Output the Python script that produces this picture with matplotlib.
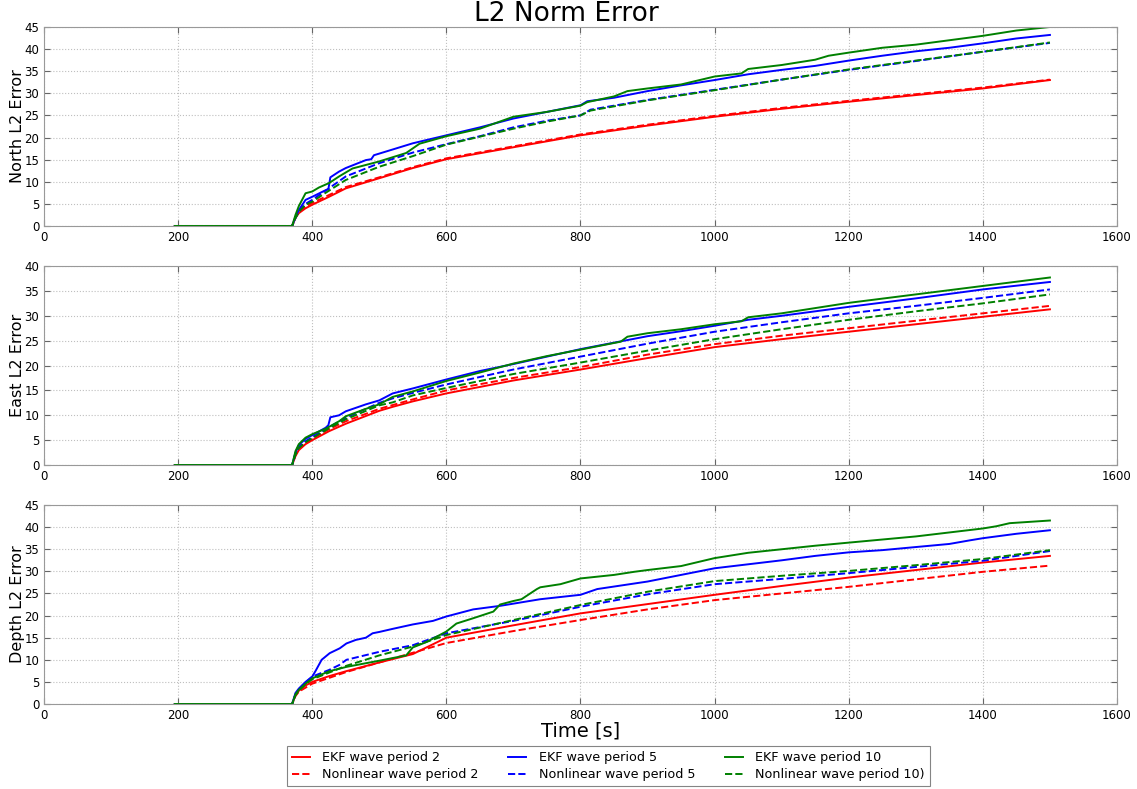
import numpy as np
import matplotlib
matplotlib.use("Agg")
import matplotlib.pyplot as plt

# (time [s], L2 error) samples for each run
north_ekf2 = [(195, 0), (370, 0), (375, 1.8), (380, 2.9), (390, 4.0), (400, 4.8), (425, 6.6), (450, 8.5),
              (500, 10.8), (550, 13.1), (600, 15.1), (700, 17.8), (800, 20.5), (900, 22.7), (1000, 24.7),
              (1100, 26.5), (1200, 28.1), (1300, 29.6), (1400, 31.1), (1500, 33.0)]
north_nl2 = [(195, 0), (370, 0), (375, 2.0), (380, 3.2), (390, 4.4), (400, 5.2), (425, 7.0), (450, 8.8),
             (500, 11.0), (550, 13.3), (600, 15.3), (700, 18.0), (800, 20.7), (900, 22.9), (1000, 24.9),
             (1100, 26.7), (1200, 28.3), (1300, 29.8), (1400, 31.3), (1500, 33.1)]
north_ekf5 = [(195, 0), (370, 0), (375, 2.0), (380, 3.6), (390, 5.9), (400, 6.6), (420, 8.1), (424, 8.3),
              (427, 11.0), (440, 12.3), (450, 13.1), (480, 14.9), (488, 15.1), (492, 16.0), (520, 17.3),
              (550, 18.7), (600, 20.5), (650, 22.3), (700, 24.3), (750, 25.8), (800, 27.3), (810, 28.2),
              (850, 29.0), (900, 30.5), (950, 31.8), (1000, 33.0), (1050, 34.3), (1100, 35.3), (1150, 36.2),
              (1200, 37.4), (1250, 38.5), (1300, 39.5), (1350, 40.3), (1400, 41.3), (1450, 42.4), (1500, 43.2)]
north_ekf10 = [(195, 0), (370, 0), (375, 2.5), (380, 4.5), (390, 7.4), (400, 7.8), (410, 8.7), (425, 9.7),
               (440, 11.2), (460, 13.0), (480, 13.8), (500, 14.6), (540, 16.5), (560, 18.6), (600, 20.3),
               (650, 22.0), (700, 24.7), (750, 25.8), (800, 27.2), (810, 28.0), (850, 29.3), (870, 30.5),
               (900, 31.1), (950, 32.0), (1000, 33.8), (1040, 34.5), (1050, 35.5), (1100, 36.4), (1150, 37.6),
               (1170, 38.5), (1200, 39.2), (1250, 40.3), (1300, 41.0), (1350, 42.0), (1400, 43.0),
               (1450, 44.2), (1500, 45.0)]
north_nl5 = [(195, 0), (370, 0), (375, 1.8), (380, 3.3), (390, 5.0), (400, 5.9), (420, 8.0), (450, 11.2),
             (500, 14.2), (550, 16.6), (600, 18.5), (650, 20.3), (700, 22.3), (750, 23.8), (800, 25.0),
             (815, 26.3), (900, 28.5), (1000, 30.8), (1100, 33.1), (1200, 35.3), (1300, 37.3), (1400, 39.4),
             (1500, 41.4)]
north_nl10 = [(195, 0), (370, 0), (375, 1.8), (380, 3.2), (390, 4.8), (400, 5.5), (420, 7.5), (450, 10.4),
              (500, 13.4), (550, 15.8), (600, 18.4), (650, 20.2), (700, 22.0), (750, 23.6), (800, 25.0),
              (815, 26.1), (900, 28.4), (1000, 30.7), (1100, 33.1), (1200, 35.4), (1300, 37.4), (1400, 39.4),
              (1500, 41.5)]

east_ekf2 = [(195, 0), (370, 0), (375, 1.8), (380, 3.0), (390, 4.2), (400, 5.0), (425, 6.8), (450, 8.3),
             (500, 10.9), (520, 11.7), (550, 12.8), (600, 14.4), (700, 17.0), (800, 19.2), (900, 21.5),
             (1000, 23.7), (1100, 25.3), (1200, 26.8), (1300, 28.3), (1400, 29.8), (1500, 31.3)]
east_nl2 = [(195, 0), (370, 0), (375, 2.0), (380, 3.3), (390, 4.5), (400, 5.3), (425, 7.2), (450, 8.8),
            (500, 11.3), (550, 13.2), (600, 15.0), (700, 17.5), (800, 19.7), (900, 22.2), (1000, 24.3),
            (1100, 26.0), (1200, 27.5), (1300, 29.0), (1400, 30.5), (1500, 32.0)]
east_ekf5 = [(195, 0), (370, 0), (375, 2.5), (380, 4.0), (390, 5.3), (400, 6.0), (420, 7.5), (424, 8.0),
             (427, 9.6), (440, 10.0), (450, 10.8), (480, 12.2), (500, 13.0), (520, 14.4), (550, 15.4),
             (600, 17.2), (650, 18.9), (700, 20.3), (750, 21.8), (800, 23.3), (850, 24.6), (900, 25.9),
             (950, 26.9), (1000, 28.0), (1050, 29.2), (1100, 30.0), (1200, 31.8), (1300, 33.5), (1400, 35.3),
             (1500, 36.8)]
east_ekf10 = [(195, 0), (370, 0), (375, 2.8), (380, 4.2), (390, 5.5), (400, 6.2), (420, 7.3), (440, 8.8),
              (450, 9.8), (480, 11.3), (500, 12.2), (520, 13.7), (550, 14.8), (600, 16.9), (650, 18.6),
              (700, 20.4), (750, 21.9), (800, 23.2), (860, 24.8), (870, 25.8), (900, 26.5), (950, 27.3),
              (1000, 28.3), (1040, 28.9), (1050, 29.7), (1100, 30.5), (1200, 32.6), (1300, 34.3),
              (1400, 36.0), (1500, 37.7)]
east_nl5 = [(195, 0), (370, 0), (375, 2.3), (380, 3.6), (390, 4.8), (400, 5.6), (425, 7.6), (450, 9.5),
            (500, 12.5), (520, 13.4), (550, 14.5), (600, 16.2), (700, 19.2), (800, 21.8), (900, 24.4),
            (1000, 26.8), (1100, 28.7), (1200, 30.5), (1300, 32.0), (1400, 33.6), (1500, 35.3)]
east_nl10 = [(195, 0), (370, 0), (375, 2.1), (380, 3.4), (390, 4.6), (400, 5.4), (425, 7.4), (450, 9.2),
             (500, 12.0), (520, 12.6), (550, 14.0), (600, 15.5), (700, 18.3), (800, 20.6), (900, 23.0),
             (1000, 25.3), (1100, 27.3), (1200, 29.2), (1300, 30.9), (1400, 32.5), (1500, 34.3)]

depth_ekf2 = [(195, 0), (370, 0), (375, 2.0), (380, 3.0), (390, 4.2), (400, 5.0), (425, 6.3), (450, 7.4),
              (500, 9.4), (550, 11.3), (600, 15.0), (700, 17.8), (800, 20.5), (900, 22.6), (1000, 24.7),
              (1100, 26.7), (1200, 28.6), (1300, 30.3), (1400, 32.0), (1500, 33.5)]
depth_nl2 = [(195, 0), (370, 0), (375, 1.8), (380, 2.8), (400, 4.6), (450, 7.2), (500, 9.4), (550, 11.6),
             (600, 13.8), (700, 16.5), (800, 19.0), (900, 21.4), (1000, 23.5), (1100, 25.0), (1200, 26.5),
             (1300, 28.2), (1400, 29.9), (1500, 31.3)]
depth_ekf5 = [(195, 0), (370, 0), (375, 2.5), (380, 3.5), (390, 5.0), (400, 6.2), (405, 7.5), (414, 10.0),
              (426, 11.5), (441, 12.6), (451, 13.7), (465, 14.5), (480, 15.0), (490, 16.0), (500, 16.3),
              (520, 17.0), (550, 18.0), (580, 18.8), (600, 19.8), (640, 21.4), (680, 22.2), (740, 23.7),
              (800, 24.7), (825, 26.0), (900, 27.7), (950, 29.2), (1000, 30.7), (1050, 31.6), (1100, 32.5),
              (1150, 33.5), (1200, 34.3), (1250, 34.8), (1300, 35.5), (1350, 36.2), (1380, 37.0),
              (1400, 37.5), (1450, 38.5), (1500, 39.3)]
depth_ekf10 = [(195, 0), (370, 0), (375, 2.2), (380, 3.2), (390, 4.6), (400, 5.8), (425, 7.4), (451, 8.4),
               (500, 9.8), (540, 11.0), (550, 12.8), (570, 14.0), (600, 16.4), (615, 18.2), (640, 19.4),
               (670, 20.9), (680, 22.5), (700, 23.3), (712, 23.7), (735, 26.0), (740, 26.4), (770, 27.1),
               (800, 28.4), (850, 29.2), (880, 29.9), (900, 30.3), (950, 31.2), (1000, 33.0), (1050, 34.2),
               (1100, 35.0), (1150, 35.8), (1200, 36.5), (1300, 37.9), (1350, 38.8), (1400, 39.7),
               (1420, 40.2), (1440, 40.9), (1500, 41.5)]
depth_nl5 = [(195, 0), (370, 0), (375, 2.2), (380, 3.2), (390, 4.8), (400, 6.2), (425, 7.7), (440, 8.8),
             (451, 10.0), (500, 11.8), (550, 13.3), (600, 16.0), (700, 18.8), (800, 22.0), (900, 24.8),
             (1000, 27.1), (1100, 28.3), (1200, 29.6), (1300, 31.0), (1400, 32.4), (1500, 34.6)]
depth_nl10 = [(195, 0), (370, 0), (375, 2.0), (380, 3.0), (390, 4.5), (400, 5.6), (450, 8.6), (500, 11.0),
              (550, 13.0), (600, 15.6), (700, 19.0), (800, 22.4), (900, 25.4), (1000, 27.8), (1100, 29.0),
              (1200, 30.1), (1300, 31.4), (1400, 32.8), (1500, 34.8)]

labels = ["EKF wave period 2", "Nonlinear wave period 2",
          "EKF wave period 5", "Nonlinear wave period 5",
          "EKF wave period 10", "Nonlinear wave period 10)"]
colors = ["r", "r", "b", "b", "g", "g"]
styles = ["-", "--", "-", "--", "-", "--"]

panels = [
    ("North L2 Error", 45, [north_ekf2, north_nl2, north_ekf5, north_nl5, north_ekf10, north_nl10]),
    ("East L2 Error", 40, [east_ekf2, east_nl2, east_ekf5, east_nl5, east_ekf10, east_nl10]),
    ("Depth L2 Error", 45, [depth_ekf2, depth_nl2, depth_ekf5, depth_nl5, depth_ekf10, depth_nl10]),
]

plt.rcParams["xtick.direction"] = "in"
plt.rcParams["ytick.direction"] = "in"
plt.rcParams["xtick.top"] = True
plt.rcParams["ytick.right"] = True

fig = plt.figure(figsize=(11.37, 7.89), dpi=100)
bottoms = [0.7136, 0.4106, 0.1077]
handles = []
for k, (ylab, ymax, series) in enumerate(panels):
    ax = fig.add_axes([0.0387, bottoms[k], 0.9437, 0.2522])
    for s, c, ls, lab in zip(series, colors, styles, labels):
        d = np.array(s, dtype=float)
        h, = ax.plot(d[:, 0], d[:, 1], color=c, linestyle=ls, linewidth=1.4, label=lab)
        if k == 0:
            handles.append(h)
    ax.set_xlim(0, 1600)
    ax.set_ylim(0, ymax)
    ax.set_xticks(np.arange(0, 1601, 200))
    ax.set_yticks(np.arange(0, ymax + 1, 5))
    ax.tick_params(labelsize=8.5, length=4, color="0.4")
    ax.grid(True, linestyle=":", color="0.75", linewidth=0.8)
    for sp in ax.spines.values():
        sp.set_color("0.6")
    ax.set_ylabel(ylab, fontsize=11.5)
    ax.yaxis.set_label_coords(-0.018, 0.5)
    if k == 0:
        ax.set_title("L2 Norm Error", fontsize=19, pad=2, x=0.487)
    if k == 2:
        ax.set_xlabel("Time [s]", fontsize=14, labelpad=0)

# columns: period 2, 5, 10 ; rows: EKF, nonlinear
leg = fig.legend(handles, labels, loc="upper center", bbox_to_anchor=(0.535, 0.0625), ncol=3,
                 fontsize=9.2, frameon=True, fancybox=False, edgecolor="0.4",
                 handlelength=1.4, handletextpad=1.0, columnspacing=2.3, borderpad=0.4,
                 labelspacing=0.3)
leg.get_frame().set_linewidth(0.8)

fig.savefig("out.png", dpi=100)
